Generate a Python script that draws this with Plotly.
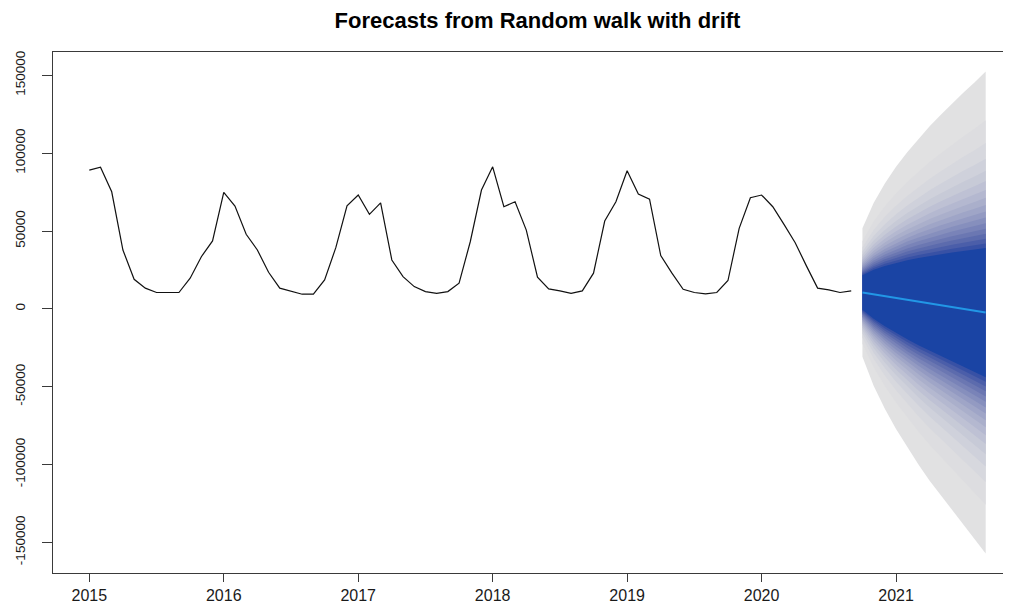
import math
from statistics import NormalDist
import plotly.graph_objects as go

# ---------------- data ----------------
start_year = 2015
start_month = 1  # January 2015, monthly observations
observed = [
    89100, 91000, 75200, 37800, 19000, 13300, 10500, 10500, 10500, 19700, 33500, 43600,   # 2015
    74800, 66000, 47900, 37800, 23500, 13300, 11500, 9400, 9400, 18600, 39300, 66200,      # 2016
    73100, 60700, 68100, 31400, 20700, 14300, 11100, 10000, 11100, 16500, 43100, 76300,    # 2017
    91200, 65600, 68800, 50600, 20300, 12800, 11500, 10000, 11500, 22900, 56400, 68800,    # 2018
    88700, 73700, 70500, 34200, 22900, 12600, 10500, 9600, 10500, 18200, 51700, 71400,     # 2019
    73100, 65600, 54300, 42500, 27600, 13300, 12200, 10500, 11500,                         # 2020
]
# 12-month forecast (Oct 2020 - Sep 2021): point forecast and standard error
fc_mean = [10500, 9330, 8160, 6990, 5820, 4650, 3480, 2310, 1140, -30, -1200, -2370]
fc_se = [16000, 22800, 28100, 32700, 36800, 40600, 44200, 47500, 50800, 53900, 56900, 60100]
fan_levels = list(range(51, 100, 3))  # 51, 54, ..., 99

x_tick_vals = [2015, 2016, 2017, 2018, 2019, 2020, 2021]
x_tick_text = ["2015", "2016", "2017", "2018", "2019", "2020", "2021"]
y_tick_vals = [-150000, -100000, -50000, 0, 50000, 100000, 150000]
y_tick_text = ["-150000", "-100000", "-50000", "0", "50000", "100000", "150000"]

title_text = "Forecasts from Random walk with drift"

# ---------------- derived time axes ----------------
t0 = start_year + (start_month - 1) / 12
obs_t = [t0 + i / 12 for i in range(len(observed))]
fc_t = [t0 + (len(observed) + i) / 12 for i in range(len(fc_mean))]


# ---------------- colours: colorspace::sequential_hcl(52) ----------------
def polarluv_to_hex(L, C, H):
    Xn, Yn, Zn = 95.047, 100.0, 108.883
    u = C * math.cos(math.radians(H))
    v = C * math.sin(math.radians(H))
    if L <= 0:
        return "#000000"
    Y = Yn * (((L + 16) / 116) ** 3 if L > 8 else L / 903.3)
    den = Xn + 15 * Yn + 3 * Zn
    un, vn = 4 * Xn / den, 9 * Yn / den
    up = u / (13 * L) + un
    vp = v / (13 * L) + vn
    X = Y * 9 * up / (4 * vp)
    Z = Y * (12 - 3 * up - 20 * vp) / (4 * vp)
    X, Y, Z = X / 100, Y / 100, Z / 100
    r = 3.240479 * X - 1.537150 * Y - 0.498535 * Z
    g = -0.969256 * X + 1.875992 * Y + 0.041556 * Z
    b = 0.055648 * X - 0.204043 * Y + 1.057311 * Z

    def gam(c):
        c = min(max(c, 0.0), 1.0)
        return 12.92 * c if c <= 0.0031308 else 1.055 * c ** (1 / 2.4) - 0.055

    return "#%02X%02X%02X" % tuple(int(round(255 * gam(c))) for c in (r, g, b))


def sequential_hcl(n, h=260, c=(80, 0), l=(30, 90), power=1.5):
    out = []
    for k in range(n):
        rv = 1 - k / (n - 1)
        L = l[1] - (l[1] - l[0]) * rv ** power
        C = c[1] - (c[1] - c[0]) * rv ** power
        out.append(polarluv_to_hex(L, C, h))
    return out


pal = sequential_hcl(52)
nd = NormalDist()

fig = go.Figure()

# fan: widest (lightest) first
for lev in sorted(fan_levels, reverse=True):
    z = nd.inv_cdf(0.5 + lev / 200)
    upper = [m + z * s for m, s in zip(fc_mean, fc_se)]
    lower = [m - z * s for m, s in zip(fc_mean, fc_se)]
    fig.add_trace(go.Scatter(
        x=fc_t + fc_t[::-1],
        y=upper + lower[::-1],
        fill="toself",
        fillcolor=pal[lev - 50],
        line=dict(width=0, color=pal[lev - 50]),
        mode="lines",
        hoverinfo="skip",
        showlegend=False,
    ))

# observed series
fig.add_trace(go.Scatter(
    x=obs_t, y=observed, mode="lines",
    line=dict(color="#111111", width=1.2),
    showlegend=False, hoverinfo="skip",
))

# point forecast
fig.add_trace(go.Scatter(
    x=fc_t, y=fc_mean, mode="lines",
    line=dict(color="#2297E6", width=2),
    showlegend=False, hoverinfo="skip",
))

# The page body has an 8px default margin; size the figure so that it fills
# the rest of the 1011x605 window.
FIG_W, FIG_H = 1003, 597

axis_col = "#3a3a3a"
fig.update_layout(
    width=FIG_W, height=FIG_H,
    margin=dict(l=45, r=0, t=44, b=32, pad=0, autoexpand=False),
    paper_bgcolor="white", plot_bgcolor="white",
    font=dict(family="Liberation Sans, Arial, sans-serif", color="#1a1a1a"),
    title=dict(
        text="<b>" + title_text + "</b>",
        xref="container", yref="container",
        x=529.5 / FIG_W, y=1 - 12 / FIG_H,
        xanchor="center", yanchor="middle",
        font=dict(size=22, color="black", family="Liberation Sans, Arial, sans-serif"),
    ),
    xaxis=dict(
        range=[2014.73, 2021.855],
        automargin=False,
        tickmode="array", tickvals=x_tick_vals, ticktext=x_tick_text,
        ticks="outside", ticklen=8, tickwidth=1, tickcolor=axis_col,
        ticklabelstandoff=0,
        showline=True, linecolor=axis_col, linewidth=1, mirror=True,
        showgrid=False, zeroline=False,
        tickfont=dict(size=16, color="#1a1a1a"),
    ),
    yaxis=dict(
        range=[-169666, 164974],
        automargin=False,
        tickmode="array", tickvals=y_tick_vals, ticktext=y_tick_text,
        tickangle=-90,
        ticks="outside", ticklen=10, tickwidth=1, tickcolor=axis_col,
        ticklabelstandoff=12,
        showline=True, linecolor=axis_col, linewidth=1, mirror=False,
        showgrid=False, zeroline=False,
        tickfont=dict(size=13.5, color="#1a1a1a"),
    ),
    hovermode=False,
)

fig.write_html("out.html", config={"displayModeBar": False, "staticPlot": True})
